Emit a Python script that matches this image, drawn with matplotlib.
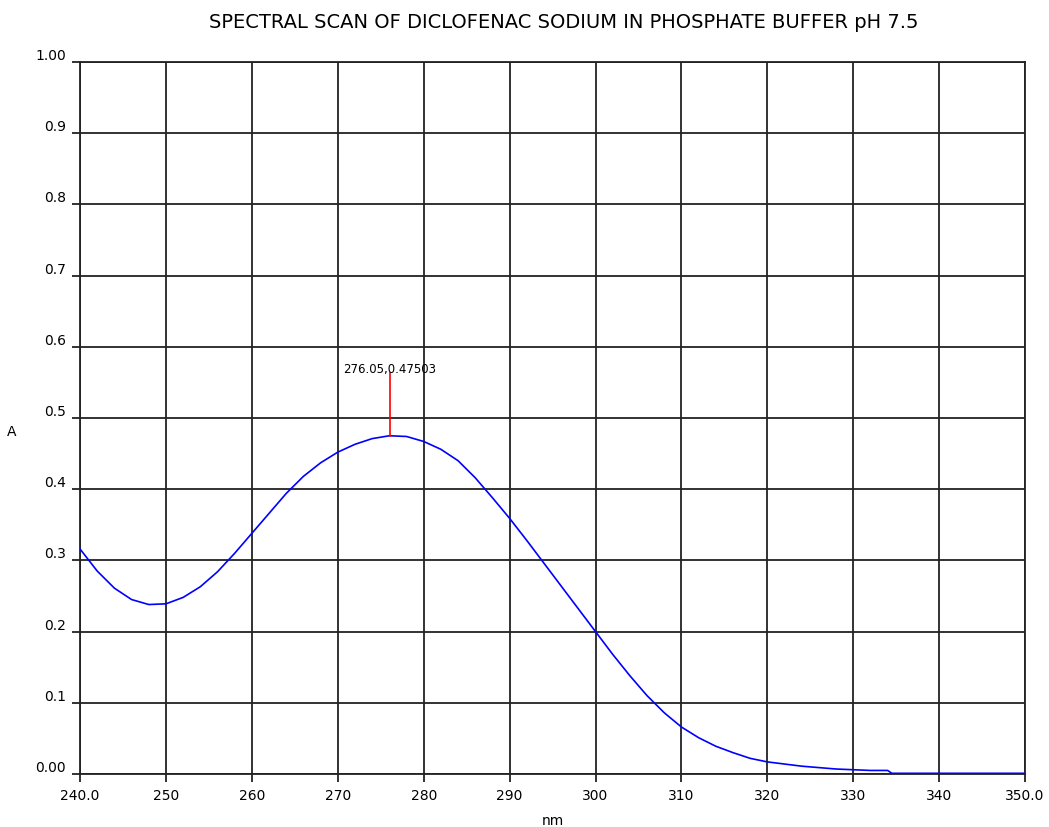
import matplotlib
matplotlib.use('agg')
import matplotlib.pyplot as plt

# spectrum (nm, absorbance)
wavelength = [240, 242, 244, 246, 248, 250, 252, 254, 256, 258,
              260, 262, 264, 266, 268, 270, 272, 274, 276, 278,
              280, 282, 284, 286, 288, 290, 292, 294, 296, 298,
              300, 302, 304, 306, 308, 310, 312, 314, 316, 318,
              320, 322, 324, 326, 328, 330, 332, 334, 334.5, 336,
              338, 340, 342, 344, 346, 348, 350]
absorbance = [0.316, 0.285, 0.261, 0.245, 0.238, 0.239, 0.248, 0.263, 0.284, 0.310,
              0.338, 0.366, 0.394, 0.418, 0.437, 0.452, 0.463, 0.471, 0.475, 0.474,
              0.467, 0.456, 0.440, 0.416, 0.388, 0.359, 0.328, 0.296, 0.264, 0.232,
              0.200, 0.168, 0.138, 0.110, 0.086, 0.066, 0.051, 0.039, 0.030, 0.022,
              0.017, 0.014, 0.011, 0.009, 0.007, 0.006, 0.005, 0.005, 0.001, 0.001,
              0.001, 0.001, 0.001, 0.001, 0.001, 0.001, 0.001]
peak_x, peak_y = 276.05, 0.47503

x_ticks = [240, 250, 260, 270, 280, 290, 300, 310, 320, 330, 340, 350]
x_labels = ["240.0", "250", "260", "270", "280", "290", "300", "310",
            "320", "330", "340", "350.0"]
y_ticks = [0.0, 0.1, 0.2, 0.3, 0.4, 0.5, 0.6, 0.7, 0.8, 0.9, 1.0]
y_labels = ["0.00", "0.1", "0.2", "0.3", "0.4", "0.5", "0.6", "0.7",
            "0.8", "0.9", "1.00"]

fig = plt.figure(figsize=(10.49, 8.28), dpi=100)
ax = fig.add_axes([0.0763, 0.064, 0.9009, 0.860])

ax.plot(wavelength, absorbance, color='#0000ff', lw=1.2, zorder=3)
ax.plot([peak_x, peak_x], [peak_y, 0.563], color='#ff0000', lw=1.2, zorder=3)
ax.text(peak_x, 0.561, "276.05,0.47503", ha='center', va='bottom', fontsize=8.5)

ax.set_xlim(240, 350)
ax.set_ylim(0, 1.0)
ax.set_xticks(x_ticks)
ax.set_xticklabels(x_labels, fontsize=10)
ax.set_yticks(y_ticks)
ax.set_yticklabels(y_labels, fontsize=10)
for lab in ax.get_yticklabels():
    lab.set_va('bottom')
ax.tick_params(axis='both', length=6, width=1.3, color='#222222', pad=4)
ax.grid(True, color='#222222', lw=1.3)
ax.set_axisbelow(True)
for sp in ax.spines.values():
    sp.set_color('#222222')
    sp.set_linewidth(1.3)

ax.set_xlabel("nm", fontsize=10, labelpad=8)
ax.set_ylabel("A", fontsize=10, rotation=0, va='center', ha='center')
ax.yaxis.set_label_coords(-0.072, 0.482)

fig.text(0.537, 0.973, "SPECTRAL SCAN OF DICLOFENAC SODIUM IN PHOSPHATE BUFFER pH 7.5",
         ha='center', va='center', fontsize=14)

plt.savefig("out.png", dpi=100, facecolor='white')
